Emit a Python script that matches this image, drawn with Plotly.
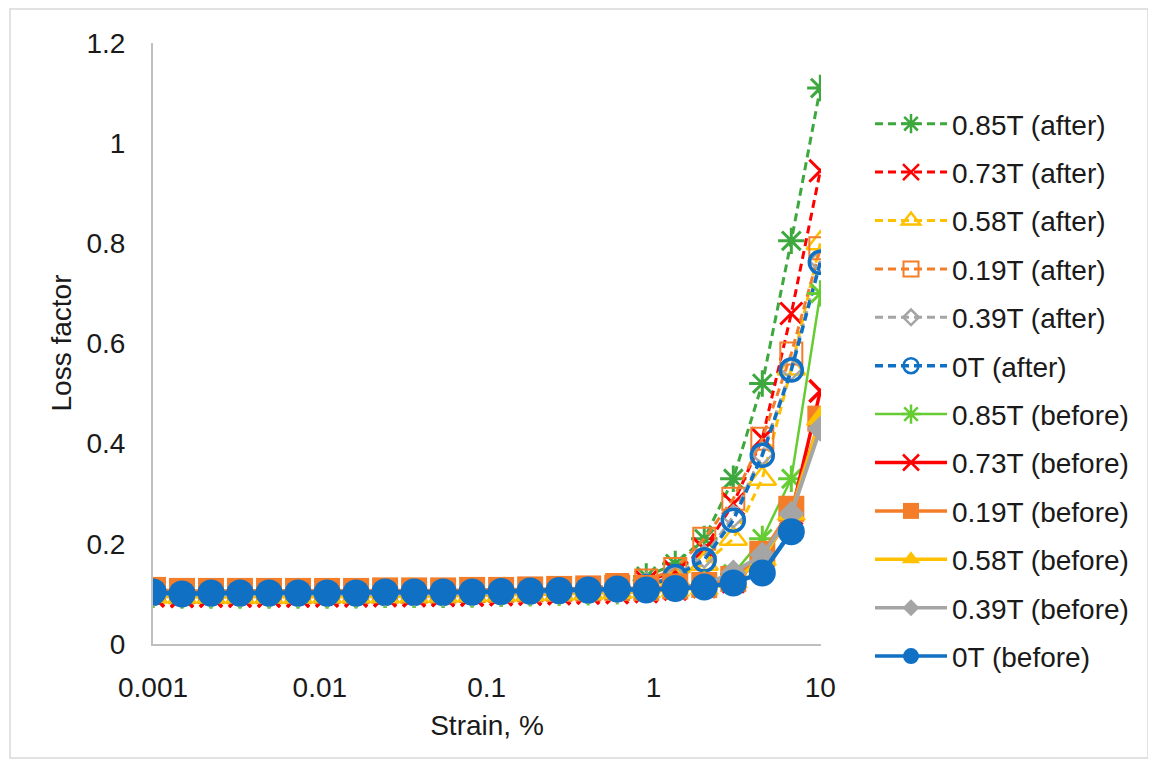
import plotly.graph_objects as go

# ---------------- data ----------------
strain = [0.001, 0.001492, 0.002227, 0.003323, 0.00496, 0.007403, 0.01105, 0.01649,
          0.02461, 0.03673, 0.05482, 0.08181, 0.1221, 0.1823, 0.272, 0.406,
          0.606, 0.9048, 1.35, 2.015, 3.008, 4.489, 6.7, 10.0]

after_085 = [0.098, 0.097, 0.097, 0.097, 0.097, 0.097, 0.097, 0.097, 0.098, 0.098, 0.098, 0.099,
             0.100, 0.102, 0.104, 0.107, 0.115, 0.135, 0.160, 0.210, 0.330, 0.520, 0.805, 1.110]
after_073 = [0.096, 0.095, 0.096, 0.096, 0.096, 0.096, 0.096, 0.096, 0.097, 0.097, 0.097, 0.098,
             0.099, 0.100, 0.101, 0.104, 0.110, 0.125, 0.145, 0.190, 0.280, 0.410, 0.660, 0.945]
after_058 = [0.095, 0.094, 0.094, 0.094, 0.094, 0.094, 0.095, 0.095, 0.095, 0.095, 0.096, 0.097,
             0.098, 0.099, 0.100, 0.102, 0.105, 0.115, 0.130, 0.160, 0.210, 0.330, 0.550, 0.800]
after_019 = [0.106, 0.104, 0.104, 0.104, 0.104, 0.104, 0.104, 0.104, 0.105, 0.105, 0.105, 0.106,
             0.107, 0.108, 0.110, 0.112, 0.118, 0.127, 0.150, 0.210, 0.290, 0.410, 0.580, 0.790]
after_039 = [0.100, 0.099, 0.099, 0.099, 0.099, 0.099, 0.099, 0.099, 0.100, 0.100, 0.100, 0.101,
             0.102, 0.103, 0.104, 0.106, 0.110, 0.120, 0.135, 0.175, 0.255, 0.380, 0.550, 0.765]
after_0 = [0.101, 0.100, 0.100, 0.100, 0.100, 0.100, 0.100, 0.100, 0.101, 0.101, 0.101, 0.102,
           0.103, 0.104, 0.105, 0.106, 0.109, 0.115, 0.135, 0.168, 0.247, 0.377, 0.547, 0.762]

before_085 = [0.098, 0.097, 0.097, 0.097, 0.097, 0.097, 0.097, 0.098, 0.098, 0.098, 0.099, 0.099,
              0.100, 0.101, 0.102, 0.103, 0.105, 0.108, 0.112, 0.120, 0.140, 0.210, 0.330, 0.700]
before_073 = [0.097, 0.096, 0.096, 0.096, 0.096, 0.096, 0.097, 0.097, 0.097, 0.097, 0.098, 0.098,
              0.099, 0.100, 0.101, 0.102, 0.103, 0.105, 0.110, 0.115, 0.125, 0.170, 0.260, 0.505]
before_019 = [0.108, 0.106, 0.106, 0.106, 0.106, 0.106, 0.106, 0.106, 0.107, 0.107, 0.107, 0.108,
              0.108, 0.109, 0.110, 0.111, 0.112, 0.112, 0.115, 0.118, 0.130, 0.180, 0.270, 0.450]
before_058 = [0.095, 0.094, 0.094, 0.094, 0.094, 0.094, 0.095, 0.095, 0.095, 0.096, 0.096, 0.097,
              0.098, 0.099, 0.100, 0.101, 0.103, 0.105, 0.108, 0.112, 0.125, 0.170, 0.260, 0.450]
before_039 = [0.100, 0.099, 0.099, 0.099, 0.099, 0.099, 0.099, 0.099, 0.100, 0.100, 0.100, 0.101,
              0.102, 0.103, 0.104, 0.105, 0.106, 0.108, 0.112, 0.118, 0.143, 0.178, 0.260, 0.430]
before_0 = [0.104, 0.100, 0.102, 0.102, 0.102, 0.102, 0.102, 0.102, 0.104, 0.104, 0.104, 0.104,
            0.105, 0.106, 0.107, 0.108, 0.110, 0.108, 0.111, 0.114, 0.122, 0.142, 0.224, None]

x_ticks = [0.001, 0.01, 0.1, 1, 10]
x_ticktext = ["0.001", "0.01", "0.1", "1", "10"]
y_ticks = [0, 0.2, 0.4, 0.6, 0.8, 1.0, 1.2]
y_ticktext = ["0", "0.2", "0.4", "0.6", "0.8", "1", "1.2"]

# ---------------- styles ----------------
GREEN_D = "#3DA83D"
GREEN_L = "#66CC33"
RED = "#FF0000"
GOLD = "#FFC000"
ORANGE = "#F47D2A"
GRAY = "#A5A5A5"
BLUE = "#1070C4"
FONT = "Liberation Sans, Arial, sans-serif"

series = [
    # name, values, color, dash, width, symbol, size, marker-line-width, legend size
    ("0.85T (after)", after_085, GREEN_D, "8px,5px", 3, "asterisk-open", 22, 3, 16),
    ("0.73T (after)", after_073, RED, "8px,5px", 3, "x-thin-open", 22, 3, 16),
    ("0.58T (after)", after_058, GOLD, "8px,5px", 3, "triangle-up-open", 24, 2.5, 16),
    ("0.19T (after)", after_019, ORANGE, "8px,5px", 3, "square-open", 22, 2, 15),
    ("0.39T (after)", after_039, GRAY, "8px,5px", 3, "diamond-open", 17, 2.5, 12),
    ("0T (after)", after_0, BLUE, "8px,5px", 3.5, "circle-open", 22, 3.5, 15),
    ("0.85T (before)", before_085, GREEN_L, "solid", 2.5, "asterisk-open", 22, 3, 16),
    ("0.73T (before)", before_073, RED, "solid", 3.5, "x-thin-open", 22, 3.5, 16),
    ("0.19T (before)", before_019, ORANGE, "solid", 3.5, "square", 26, 0, 16),
    ("0.58T (before)", before_058, GOLD, "solid", 3.5, "triangle-up", 26, 0, 16),
    ("0.39T (before)", before_039, GRAY, "solid", 4, "diamond", 20, 0, 13),
    ("0T (before)", before_0, BLUE, "solid", 4.5, "circle", 27, 0, 17),
]

fig = go.Figure()
for name, vals, color, dash, lw, sym, size, mlw, lsize in series:
    fig.add_trace(go.Scatter(
        x=strain, y=vals, mode="lines+markers", name=name, showlegend=False,
        line=dict(color=color, width=lw, dash=dash),
        marker=dict(symbol=sym, size=size, color=color, line=dict(color=color, width=mlw)),
        hoverinfo="skip",
    ))
# legend entries (smaller symbols as in the original legend)
for i, (name, vals, color, dash, lw, sym, size, mlw, lsize) in enumerate(series):
    fig.add_trace(go.Scatter(
        x=[None], y=[None], mode="lines+markers", name=name, legendgroup=f"g{i}",
        line=dict(color=color, width=min(lw, 3.5), dash=dash),
        marker=dict(symbol=sym, size=lsize, color=color, line=dict(color=color, width=min(mlw, 2.5))),
    ))

# figure pixel geometry (page has an 8px body margin)
W, H = 1140, 751
L, T = 145, 35
pw, ph = 668, 601
R, B = W - L - pw, H - T - ph

def px(x):
    return (x - L) / pw

def py(y):
    return (H - B - y) / ph

fig.update_layout(
    width=W, height=H,
    margin=dict(l=L, r=R, t=T, b=B, autoexpand=False),
    paper_bgcolor="white", plot_bgcolor="white",
    font=dict(family=FONT, size=28, color="#1a1a1a"),
    xaxis=dict(
        type="log", range=[-3, 1.004], tickvals=x_ticks, ticktext=x_ticktext,
        showgrid=False, zeroline=False, showline=True, linecolor="#BFBFBF", linewidth=2,
        ticks="", ticklabelstandoff=17,
        title=dict(text="Strain, %", font=dict(size=28), standoff=14),
    ),
    yaxis=dict(
        range=[0, 1.2], tickvals=y_ticks, ticktext=y_ticktext,
        showgrid=False, zeroline=False, showline=True, linecolor="#BFBFBF", linewidth=2,
        ticks="", ticklabelstandoff=20,
    ),
    annotations=[dict(
        text="Loss factor", textangle=-90, xref="paper", yref="paper",
        x=px(53), y=0.5, xanchor="center", yanchor="middle", showarrow=False,
        font=dict(size=28),
    )],
    legend=dict(
        x=px(862), xanchor="left", y=py(91), yanchor="top",
        font=dict(size=28), traceorder="grouped", tracegroupgap=9,
        itemwidth=72, bgcolor="rgba(0,0,0,0)", borderwidth=0, maxheight=900,
    ),
    shapes=[dict(
        type="rect", xref="paper", yref="paper",
        x0=px(2), x1=px(1140), y0=py(750), y1=py(1),
        line=dict(color="#D9D9D9", width=1.5), fillcolor="rgba(0,0,0,0)", layer="below",
    )],
)

fig.write_html("out.html")
